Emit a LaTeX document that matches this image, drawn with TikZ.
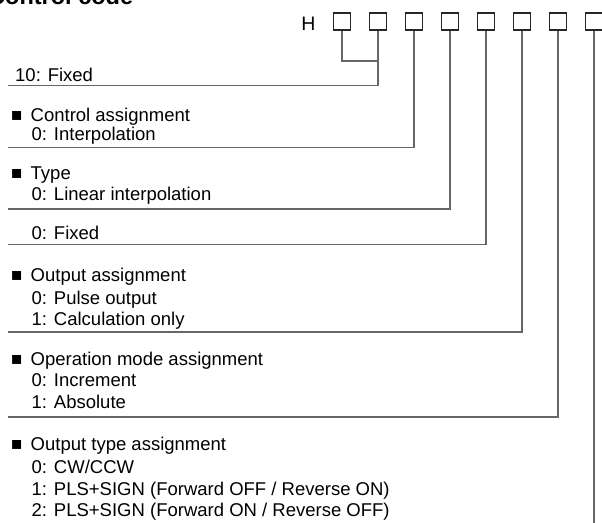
\documentclass[tikz,border=0pt]{standalone}
\usepackage{fontspec}
\setmainfont{Liberation Sans}
\newcommand\mybul{\makebox[19.5pt][l]{\fontsize{18.5}{18.5}\selectfont ■}}
\begin{document}
\begin{tikzpicture}[x=1pt,y=-1pt,
  txt/.style={anchor=base west, inner sep=0pt, font=\fontsize{18.5}{22}\selectfont},
  cbox/.style={draw=black!85, line width=1.9pt, minimum size=17pt, inner sep=0pt},
  lead/.style={draw=black!60, line width=1.3pt}]
\useasboundingbox (0,0) rectangle (602,522);
\clip (0,0) rectangle (602,522);
% title (cut at top)
\node[anchor=base west, inner sep=0pt, font=\bfseries\fontsize{23.5}{28}\selectfont] (title) at (-12,5) {Control code};
% code boxes
\node[txt, anchor=base, font=\fontsize{19.5}{22}\selectfont] (h) at (308.5,30.5) {H};
\foreach \i in {1,...,8}{
  \node[cbox] (b\i) at ({342+36*(\i-1)},21.5) {};
}
% texts
\node[txt] (t0) at (15,81) {10: Fixed};
\node[txt] (t1a) at (11,121) {\mybul Control assignment};
\node[txt] (t1b) at (31.5,140.7) {0: Interpolation};
\node[txt] (t2a) at (11,179) {\mybul Type};
\node[txt] (t2b) at (31.5,200) {0: Linear interpolation};
\node[txt] (t3) at (31.5,239) {0: Fixed};
\node[txt] (t4a) at (11,281.7) {\mybul Output assignment};
\node[txt] (t4b) at (31.5,304) {0: Pulse output};
\node[txt] (t4c) at (31.5,325) {1: Calculation only};
\node[txt] (t5a) at (11,365) {\mybul Operation mode assignment};
\node[txt] (t5b) at (31.5,386.7) {0: Increment};
\node[txt] (t5c) at (31.5,408.5) {1: Absolute};
\node[txt] (t6a) at (11,450) {\mybul Output type assignment};
\node[txt] (t6b) at (31.5,473.3) {0: CW/CCW};
\node[txt] (t6c) at (31.5,495) {1: PLS+SIGN (Forward OFF / Reverse ON)};
\node[txt] (t6d) at (31.5,516.7) {2: PLS+SIGN (Forward ON / Reverse OFF)};
% leader end points
\coordinate (j1) at (378,61);
\coordinate (e2) at (8,85.5);
\coordinate (e3) at (8,147.3);
\coordinate (e4) at (8,209);
\coordinate (e5) at (8,244.3);
\coordinate (e6) at (8,332);
\coordinate (e7) at (8,417);
\coordinate (e8) at (594,530);
% leaders
\draw[lead] (b1.south) |- (j1);
\draw[lead] (b2.south) |- (e2);
\draw[lead] (b3.south) |- (e3);
\draw[lead] (b4.south) |- (e4);
\draw[lead] (b5.south) |- (e5);
\draw[lead] (b6.south) |- (e6);
\draw[lead] (b7.south) |- (e7);
\draw[lead] (b8.south) -- (e8);
\end{tikzpicture}
\end{document}
